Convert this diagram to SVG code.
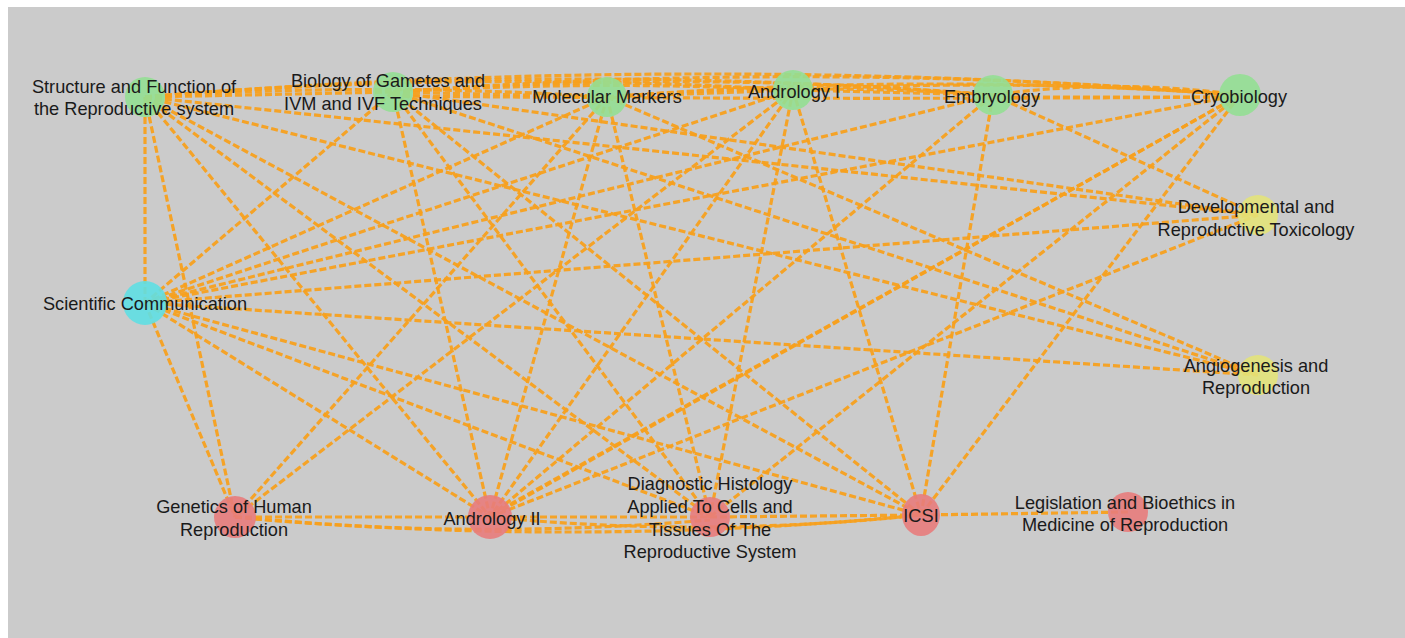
<svg xmlns="http://www.w3.org/2000/svg" width="1405" height="638" viewBox="0 0 1405 638">
<style>
.e{fill:none;stroke:#f7a01e;stroke-width:3.2;stroke-dasharray:7 3;opacity:0.95}
.n{opacity:0.9}
.g{fill:#93df93}
.c{fill:#5fdfe3}
.y{fill:#e3e37a}
.r{fill:#e87c7c}
text{font-family:"Liberation Sans",Arial,sans-serif;font-size:18.2px;fill:#1a1a1a;text-anchor:middle}
</style>
<rect x="0" y="0" width="1405" height="638" fill="#ffffff"/>
<rect x="8" y="7" width="1397" height="631" fill="#cbcbcb"/>
<g id="connectors">
<path class="e" d="M145 97 L393 92"/>
<path class="e" d="M145 97 Q376 82 607 97"/>
<path class="e" d="M145 97 Q469 70 793 90"/>
<path class="e" d="M145 97 Q569 62 993 95"/>
<path class="e" d="M145 97 Q692 52 1240 95"/>
<path class="e" d="M393 92 L607 97"/>
<path class="e" d="M393 92 Q593 80 793 90"/>
<path class="e" d="M393 92 Q693 70 993 95"/>
<path class="e" d="M393 92 Q816 60 1240 95"/>
<path class="e" d="M393 96 Q816 100 1240 97"/>
<path class="e" d="M607 97 L793 90"/>
<path class="e" d="M607 97 Q800 82 993 95"/>
<path class="e" d="M607 97 Q923 72 1240 95"/>
<path class="e" d="M793 90 L993 95"/>
<path class="e" d="M793 90 Q1016 78 1240 95"/>
<path class="e" d="M993 95 Q1116 78 1240 95"/>
<path class="e" d="M993 97 L1240 97"/>
<path class="e" d="M145 97 L145 303"/>
<path class="e" d="M145 97 L235 517"/>
<path class="e" d="M145 97 L490 517"/>
<path class="e" d="M145 97 L710 517"/>
<path class="e" d="M145 97 L921 515"/>
<path class="e" d="M145 97 L1258 215"/>
<path class="e" d="M145 97 L1258 375"/>
<path class="e" d="M393 92 L145 303"/>
<path class="e" d="M393 92 L490 517"/>
<path class="e" d="M393 92 L710 517"/>
<path class="e" d="M393 92 L921 515"/>
<path class="e" d="M393 92 L1258 215"/>
<path class="e" d="M393 92 L1258 375"/>
<path class="e" d="M607 97 L145 303"/>
<path class="e" d="M607 97 L235 517"/>
<path class="e" d="M607 97 L490 517"/>
<path class="e" d="M607 97 L710 517"/>
<path class="e" d="M607 97 L1258 375"/>
<path class="e" d="M793 90 L145 303"/>
<path class="e" d="M793 90 L490 517"/>
<path class="e" d="M793 90 L235 517"/>
<path class="e" d="M793 90 L710 517"/>
<path class="e" d="M793 90 L921 515"/>
<path class="e" d="M993 95 L145 303"/>
<path class="e" d="M993 95 L490 517"/>
<path class="e" d="M993 95 L921 515"/>
<path class="e" d="M993 95 L1258 215"/>
<path class="e" d="M1240 95 L145 303"/>
<path class="e" d="M1240 95 L490 517"/>
<path class="e" d="M1240 95 L710 517"/>
<path class="e" d="M1240 95 L921 515"/>
<path class="e" d="M1240 95 L500 510"/>
<path class="e" d="M145 303 L235 517"/>
<path class="e" d="M145 303 L490 517"/>
<path class="e" d="M145 303 L710 517"/>
<path class="e" d="M145 303 L921 515"/>
<path class="e" d="M145 303 L1258 215"/>
<path class="e" d="M145 303 L1258 375"/>
<path class="e" d="M490 517 L1258 215"/>
<path class="e" d="M235 517 L490 517"/>
<path class="e" d="M235 517 Q472 540 710 520"/>
<path class="e" d="M235 517 Q578 548 921 515"/>
<path class="e" d="M490 517 L710 517"/>
<path class="e" d="M490 517 Q705 538 921 515"/>
<path class="e" d="M710 517 L921 515"/>
<path class="e" d="M921 515 L1128 512"/>
</g>
<g id="node-sf"><circle class="n g" cx="145" cy="97" r="20"/><text x="134" y="93">Structure and Function of</text><text x="134" y="115">the Reproductive system</text></g>
<g id="node-bg"><circle class="n g" cx="393" cy="92" r="20"/><text x="388" y="87">Biology of Gametes and</text><text x="383" y="110">IVM and IVF Techniques</text></g>
<g id="node-mm"><circle class="n g" cx="607" cy="97" r="20"/><text x="607" y="103">Molecular Markers</text></g>
<g id="node-a1"><circle class="n g" cx="793" cy="90" r="20"/><text x="794" y="98">Andrology I</text></g>
<g id="node-em"><circle class="n g" cx="993" cy="95" r="20"/><text x="992" y="103">Embryology</text></g>
<g id="node-cr"><circle class="n g" cx="1240" cy="95" r="21"/><text x="1239" y="103">Cryobiology</text></g>
<g id="node-dt"><circle class="n y" cx="1258" cy="215" r="20"/><text x="1256" y="213">Developmental and</text><text x="1256" y="236">Reproductive Toxicology</text></g>
<g id="node-sc"><circle class="n c" cx="145" cy="303" r="22"/><text x="145" y="310">Scientific Communication</text></g>
<g id="node-ag"><circle class="n y" cx="1258" cy="375" r="20"/><text x="1256" y="372">Angiogenesis and</text><text x="1256" y="394">Reproduction</text></g>
<g id="node-gh"><circle class="n r" cx="235" cy="517" r="21"/><text x="234" y="513">Genetics of Human</text><text x="234" y="536">Reproduction</text></g>
<g id="node-a2"><circle class="n r" cx="490" cy="517" r="22"/><text x="492" y="525">Andrology II</text></g>
<g id="node-dh"><circle class="n r" cx="710" cy="517" r="20"/><text x="710" y="490">Diagnostic Histology</text><text x="710" y="513">Applied To Cells and</text><text x="710" y="536">Tissues Of The</text><text x="710" y="558">Reproductive System</text></g>
<g id="node-ic"><ellipse class="n r" cx="921" cy="515" rx="19" ry="21"/><text x="921" y="522">ICSI</text></g>
<g id="node-lb"><circle class="n r" cx="1128" cy="512" r="20"/><text x="1125" y="509">Legislation and Bioethics in</text><text x="1125" y="531">Medicine of Reproduction</text></g>
</svg>
